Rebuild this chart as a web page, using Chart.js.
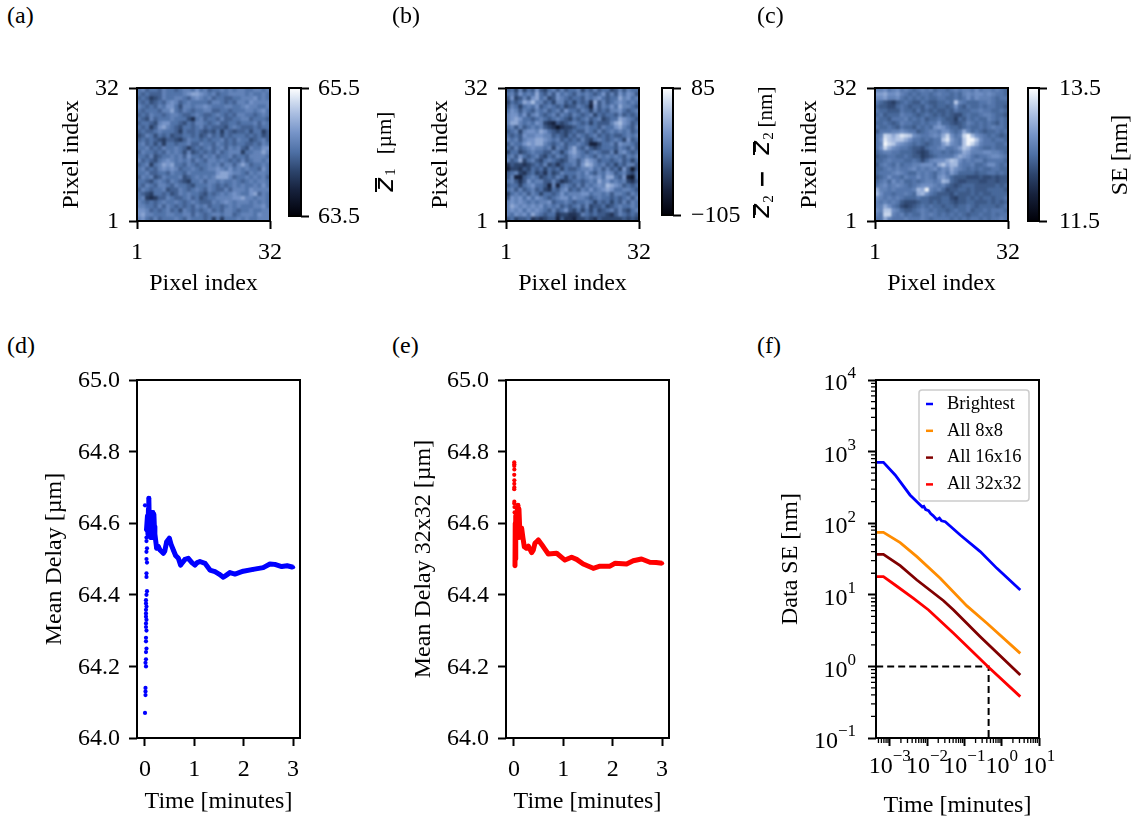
<!DOCTYPE html>
<html>
<head>
<meta charset="utf-8">
<title>Delay maps and convergence</title>
<script src="https://cdn.jsdelivr.net/npm/chart.js"></script>
<style>
  html, body { margin: 0; padding: 0; background: #fff; width: 1141px; height: 823px; overflow: hidden; }
  canvas { position: absolute; }
  .tag { position: absolute; font: 24px/28px "Liberation Serif", serif; color: #000; }
</style>
</head>
<body>
<script>
// Heat maps, top row first. One character = one pixel level.
const mapA = [
  '56455465 54566575 64556565 66556656', '54544465 55567887 65645566 66565565',
  '45423465 56654676 56455445 56667565', '54534546 76456555 54665454 66576666',
  '65454657 75366566 76555665 56766556', '54555466 85465455 66445545 55665675',
  '45465545 66544565 44565454 66554565', '54364555 65553156 45546445 56645554',
  '45543677 55435466 54564455 45556465', '54524786 54355456 45444356 54445455',
  '45445655 54254454 34352543 44535524', '34653545 34455453 46453545 55454534',
  '45454324 43246554 54556454 65534564', '56453525 54556446 55465454 55445465',
  '55645465 56542454 56456465 64365577', '46554546 56536345 45464566 62556686',
  '55463455 65647554 65645564 55466665', '64543567 65656465 46656545 46456656',
  '45625687 85546545 56564664 68645565', '56454676 76455654 56676575 65655475',
  '55644554 65546555 55578876 65465665', '46563465 55634565 65688864 55656564',
  '55435654 65432556 46656556 54565665', '54654665 46554355 56545456 56556575',
  '46545563 44654565 46544646 66576666', '54325545 34656554 35456567 65578465',
  '56212446 54456453 45566667 78665665', '65454565 56545654 44656765 66656565',
  '66554646 54545465 64554565 65556675', '77645456 45365454 56454665 45565566',
  '78665556 65566465 45665664 56665766', '67546455 56546555 45252555 65655666'
];
const mapB = [
  '45363547 43564645 56354645 53464655', '56475658 54647565 46565457 46475764',
  '47346478 56347654 55465675 45586756', '35458796 64536645 35452846 45676565',
  '46535657 45654534 46541746 57586654', '57646546 56456475 54653645 46675456',
  '67757467 54564654 65456354 55464545', '67875545 65456543 54564563 45587654',
  '68865657 63214345 65453544 46897645', '56464565 64320233 45565546 55786546',
  '45636776 87543434 54465464 56565645', '54547667 76645435 46545645 45445656',
  '65646778 87656454 54643565 45653745', '46557878 86545645 56541135 56476654',
  '54645676 65636546 85464345 55465464', '35534565 54465357 86545654 46367545',
  '56475456 43546546 76565465 65654656', '64583564 35654346 64687645 54564535',
  '24332345 46342455 64798656 45354664', '13324354 53545354 45667564 64537404',
  '45632453 42534655 56575465 76456435', '46114565 34546535 46567675 88547105',
  '56424756 64464234 55456586 75656324', '45535675 54161565 46465676 98764545',
  '56464564 53254674 54657567 87556654', '35656465 35545756 66775665 64665465',
  '47675757 65456775 76654565 54545646', '67676565 66745565 45565354 53546465',
  '68767676 75656454 56463445 34565565', '67675767 65464574 35353534 56464356',
  '65767586 54552332 23654544 32465454', '45344523 23441422 13343243 33334343'
];
const mapC = [
  '77867867 65676756 65676776 86776765', '99a88976 56566567 66565787 88787665',
  '88977865 65656556 65565686 87776566', '65432456 54465445 565c7655 56676555',
  '54433565 45546545 54585465 56566554', '65544465 54645454 45465556 67665565',
  '56455576 65456545 45433565 56776554', '65546667 56564556 54425465 65576565',
  '55654576 65565668 55434576 56565465', '65565465 54656589 86554565 56567665',
  '46667787 66456776 88656a75 65455656', '67dcaced c8766787 ad867dfb 87656545',
  '68ecbcca 86656566 ce976cff c8665665', '67fdc987 65654566 9b876cfd a7666556',
  '68da8766 54435667 86679cb8 76556555', '56776655 54323566 56567a97 77887765',
  '45566556 54423456 6668a986 56678876', '55676665 56535788 8acb8676 77566665',
  '46765756 6778886a c9bb7667 55688656', '55676766 78676786 87a87656 56556655',
  '56667876 55767657 86975555 45566565', '45686657 66867658 97544433 34334344',
  '56758675 56567767 ba543344 43344344', '67867876 56788876 75434555 44444545',
  'a7767666 67baf767 53445545 44455554', 'b8665667 65ab8654 44354445 45445555',
  '87676765 55655444 55324454 54554556', '76767643 33455454 55434455 44454545',
  '77a86532 34565655 45545565 45555456', '87cc8754 45676565 54565564 55656665',
  '76dd7675 65576765 65656545 56556566', '66a76667 66676566 66565656 65656676'
];
// value of level 0 and size of one level for each map
const levelsA = [63.88, 0.13];
const levelsB = [-80, 14];
const levelsC = [11.95, 0.1];
const rangeA = [63.5, 65.5];
const rangeB = [-105, 85];
const rangeC = [11.5, 13.5];
const barLabelsA = ['63.5', '65.5'];
const barLabelsB = ['\u2212105', '85'];
const barLabelsC = ['11.5', '13.5'];
const pixelTicks = [1, 32];

// Mean delay, all pixels of the brightest view (d)
const dotsDT = [0.00, 0.03, 0.03, 0.04, 0.03, 0.03, 0.04, 0.03, 0.03, 0.04, 0.03, 0.02, 0.02, 0.03, 0.02, 0.02, 0.02, 0.03, 0.02, 0.02, 0.03, 0.02, 0.02, 0.03, 0.02, 0.02, 0.01, 0.02, 0.01, 0.01, 0.01, 0.00];
const dotsDV = [64.65, 64.56, 64.55, 64.53, 64.52, 64.50, 64.49, 64.46, 64.45, 64.41, 64.40, 64.385, 64.376, 64.367, 64.358, 64.348, 64.339, 64.33, 64.32, 64.31, 64.30, 64.28, 64.27, 64.25, 64.24, 64.22, 64.21, 64.20, 64.14, 64.13, 64.12, 64.07];
const curveDT = [0.03, 0.05, 0.06, 0.07, 0.075, 0.08, 0.09, 0.10, 0.11, 0.12, 0.13, 0.14, 0.15, 0.16, 0.17, 0.18, 0.19, 0.20, 0.236, 0.27, 0.304, 0.371, 0.40, 0.439, 0.493, 0.53, 0.574, 0.62, 0.675, 0.722, 0.76, 0.81, 0.877, 0.95, 1.012, 1.06, 1.113, 1.215, 1.316, 1.417, 1.50, 1.586, 1.65, 1.72, 1.822, 1.99, 2.19, 2.395, 2.53, 2.63, 2.77, 2.88, 3.00];
const curveDV = [64.58, 64.62, 64.57, 64.64, 64.60, 64.67, 64.58, 64.63, 64.56, 64.62, 64.58, 64.63, 64.56, 64.63, 64.58, 64.625, 64.59, 64.57, 64.53, 64.535, 64.525, 64.516, 64.522, 64.548, 64.558, 64.54, 64.525, 64.51, 64.502, 64.483, 64.49, 64.499, 64.502, 64.49, 64.483, 64.49, 64.493, 64.488, 64.469, 64.465, 64.458, 64.449, 64.455, 64.462, 64.458, 64.466, 64.471, 64.476, 64.486, 64.485, 64.479, 64.481, 64.477];

// Mean delay 32x32 (e)
const dotsET = [0.005, 0.007, 0.005, 0.007, 0.005, 0.007, 0.006, 0.007, 0.005, 0.007, 0.006, 0.01, 0.012];
const dotsEV = [64.77, 64.765, 64.76, 64.75, 64.735, 64.72, 64.71, 64.70, 64.695, 64.66, 64.655, 64.645, 64.63];
const curveET = [0.02, 0.025, 0.03, 0.04, 0.05, 0.06, 0.07, 0.08, 0.09, 0.10, 0.12, 0.155, 0.18, 0.209, 0.25, 0.29, 0.358, 0.39, 0.425, 0.493, 0.594, 0.695, 0.864, 1.032, 1.167, 1.268, 1.403, 1.606, 1.741, 1.943, 2.044, 2.28, 2.415, 2.584, 2.753, 2.88, 3.00];
const curveEV = [64.48, 64.60, 64.50, 64.62, 64.56, 64.60, 64.64, 64.65, 64.56, 64.64, 64.57, 64.586, 64.56, 64.534, 64.53, 64.536, 64.518, 64.525, 64.544, 64.553, 64.534, 64.514, 64.516, 64.497, 64.505, 64.499, 64.486, 64.474, 64.48, 64.48, 64.488, 64.486, 64.495, 64.50, 64.491, 64.49, 64.488];
const delayTicks = [64.0, 64.2, 64.4, 64.6, 64.8, 65.0];
const timeTicks = [0, 1, 2, 3];

// Data SE against time (f)
const blueT = [0.000435, 0.00068, 0.0014, 0.0035, 0.0066, 0.0075, 0.0082, 0.0092, 0.011, 0.0125, 0.0145, 0.0184, 0.0215, 0.0245, 0.0308, 0.0776, 0.267, 0.746, 3.155];
const blueSE = [708, 708, 471, 248, 180, 168, 172, 155, 150, 136, 128, 112, 118, 108, 105, 68.4, 40.1, 23.4, 11.7];
const orangeT = [0.000435, 0.00068, 0.00191, 0.00535, 0.0226, 0.117, 0.403, 3.155];
const orangeSE = [74.6, 74.6, 53.5, 34.1, 17, 7.0, 4.0, 1.52];
const maroonT = [0.000435, 0.00068, 0.00191, 0.00535, 0.0277, 0.0514, 0.267, 3.155];
const maroonSE = [36.7, 36.7, 25.5, 16.1, 8.27, 6.13, 2.6, 0.76];
const redT = [0.000435, 0.00068, 0.0014, 0.00435, 0.011, 0.0514, 0.447, 3.155];
const redSE = [17.9, 17.9, 13.7, 8.9, 6.14, 2.9, 0.97, 0.378];
const guideT = [0.000435, 0.447, 0.447];
const guideSE = [1, 1, 0.1];
const legendLabels = ['Brightest', 'All 8x8', 'All 16x16', 'All 32x32'];
const decadesX = [-3, -2, -1, 0, 1];
const decadesY = [-1, 0, 1, 2, 3, 4];

const SERIF = '"Liberation Serif", serif';
Chart.defaults.color = '#000';
Chart.defaults.animation = false;
Chart.defaults.responsive = false;
Chart.defaults.plugins.legend.display = false;
Chart.defaults.plugins.tooltip.enabled = false;

// --- helpers ---
const colorStops = [
  [0, [0, 0, 8]], [0.2, [22, 33, 60]], [0.35, [44, 68, 108]], [0.5, [78, 112, 165]],
  [0.65, [118, 148, 200]], [0.8, [170, 190, 225]], [0.9, [210, 222, 240]], [1, [255, 255, 255]]
];
function rgb(c) { return 'rgb(' + c.map(Math.round).join(',') + ')'; }
function cmap(t) {
  t = Math.max(0, Math.min(1, t));
  for (let i = 1; i < colorStops.length; i++) {
    if (t <= colorStops[i][0]) {
      const a = colorStops[i - 1], b = colorStops[i];
      const f = (t - a[0]) / (b[0] - a[0]);
      return rgb(a[1].map((v, k) => v + (b[1][k] - v) * f));
    }
  }
  return 'rgb(255,255,255)';
}
function zip(xs, ys) { return xs.map((x, i) => ({ x: x, y: ys[i] })); }

function addCanvas(area, m) {
  const c = document.createElement('canvas');
  c.width = area.w + m.l + m.r;
  c.height = area.h + m.t + m.b;
  c.style.left = (area.x - m.l) + 'px';
  c.style.top = (area.y - m.t) + 'px';
  document.body.appendChild(c);
  return c.getContext('2d');
}
// keep the axis box a fixed size so the plot area lands where it should
function fixAxis(size) {
  return function (s) {
    s.paddingLeft = s.paddingRight = s.paddingTop = s.paddingBottom = 0;
    if (s.isHorizontal()) s.height = size; else s.width = size;
  };
}
function useTicks(values) {
  return function (s) { s.ticks = values.map(v => ({ value: v })); };
}
function axis(opts) {
  const vertical = opts.position === 'left' || opts.position === 'right';
  return {
    type: opts.type || 'linear',
    position: opts.position,
    min: opts.min,
    max: opts.max,
    afterBuildTicks: useTicks(opts.ticks),
    afterFit: fixAxis(opts.size),
    border: { display: false },
    grid: { drawOnChartArea: false, drawTicks: true, tickLength: 8, tickWidth: 2, tickColor: '#000' },
    ticks: {
      display: opts.showLabels !== false,
      autoSkip: false, maxRotation: 0, minRotation: 0,
      labelOffset: vertical ? 1 : 0,
      padding: opts.pad === undefined ? 9 : opts.pad,
      font: { family: SERIF, size: 24 },
      callback: opts.format
    },
    title: {
      display: !!opts.title, text: opts.title, font: { family: SERIF, size: 24 },
      padding: 0
    }
  };
}
const frame = {
  id: 'frame',
  afterDraw(chart) {
    const a = chart.chartArea, c = chart.ctx;
    c.save();
    c.strokeStyle = '#000';
    c.lineWidth = 2;
    c.strokeRect(a.left, a.top, a.right - a.left, a.bottom - a.top);
    c.restore();
  }
};
// the reference image is interpolated, soften the pixels a little
const soften = {
  id: 'soften',
  afterDatasetsDraw(chart) {
    const a = chart.chartArea, c = chart.ctx, w = a.right - a.left, h = a.bottom - a.top;
    const tmp = document.createElement('canvas');
    tmp.width = w; tmp.height = h;
    tmp.getContext('2d').drawImage(c.canvas, a.left, a.top, w, h, 0, 0, w, h);
    c.save();
    c.beginPath(); c.rect(a.left, a.top, w, h); c.clip();
    c.filter = 'blur(0.9px)';
    c.drawImage(tmp, a.left, a.top);
    c.restore();
  }
};
function rotated(c, text, font, x, y) {
  c.save();
  c.translate(x, y);
  c.rotate(-Math.PI / 2);
  c.font = font;
  c.textAlign = 'center';
  c.textBaseline = 'middle';
  c.fillStyle = '#000';
  c.fillText(text, 0, 0);
  c.restore();
}
// side labels of the colour bars, given in page position
const sideLabel = {
  id: 'sideLabel',
  afterDraw(chart, args, o) {
    const c = chart.ctx;
    (o.pieces || []).forEach(p => {
      if (p.bar) {
        c.fillStyle = '#000';
        c.fillRect(p.bar[0] - o.ox, p.bar[1] - o.oy, 2, p.bar[2] - p.bar[1]);
      } else {
        rotated(c, p.text, p.font, p.x - o.ox, p.y - o.oy);
      }
    });
  }
};

function heatPanel(area, rows, levels, range) {
  const m = { l: 80, r: 20, t: 20, b: 77 };
  const cells = [];
  rows.forEach((row, r) => {
    row.replace(/ /g, '').split('').forEach((ch, k) => {
      cells.push({
        x: 1 + (k + 0.5) * 31 / 32,
        y: 32 - (r + 0.5) * 31 / 32,
        v: levels[0] + parseInt(ch, 16) * levels[1]
      });
    });
  });
  new Chart(addCanvas(area, m), {
    type: 'scatter',
    data: {
      datasets: [{
        data: cells,
        pointStyle: 'rect',
        pointRadius: 3.15,
        pointBorderWidth: 0,
        pointBackgroundColor: cells.map(d => cmap((d.v - range[0]) / (range[1] - range[0])))
      }]
    },
    options: {
      layout: { padding: { top: m.t, right: m.r } },
      scales: {
        x: axis({ position: 'bottom', min: 1, max: 32, ticks: pixelTicks, size: m.b, title: 'Pixel index', format: v => String(v) }),
        y: axis({ position: 'left', min: 1, max: 32, ticks: pixelTicks, size: m.l, title: 'Pixel index', pad: 10, format: v => String(v) })
      }
    },
    plugins: [soften, frame]
  });
}

function colorBar(area, range, labels, pad, pieces) {
  const m = { l: 4, r: 120, t: 20, b: 20 };
  new Chart(addCanvas(area, m), {
    type: 'bar',
    data: {
      labels: ['scale'],
      datasets: [{
        data: [range],
        barPercentage: 1,
        categoryPercentage: 1,
        backgroundColor(ctx) {
          const a = ctx.chart.chartArea;
          if (!a) return '#4e70a5';
          const g = ctx.chart.ctx.createLinearGradient(0, a.bottom, 0, a.top);
          colorStops.forEach(s => g.addColorStop(s[0], rgb(s[1])));
          return g;
        }
      }]
    },
    options: {
      layout: { padding: { top: m.t, bottom: m.b, left: m.l } },
      scales: {
        x: { display: false },
        y: axis({ position: 'right', min: range[0], max: range[1], ticks: range, size: m.r, pad: pad, format: (v, i) => labels[i] })
      },
      plugins: { sideLabel: { pieces: pieces, ox: area.x - m.l, oy: area.y - m.t } }
    },
    plugins: [frame, sideLabel]
  });
}

function delayPanel(area, color, dotsT, dotsV, curveT, curveV, yTitle) {
  const m = { l: 97, r: 6, t: 20, b: 78 };
  new Chart(addCanvas(area, m), {
    type: 'scatter',
    data: {
      datasets: [
        { data: zip(dotsT, dotsV), pointRadius: 2.1, pointBorderWidth: 0, pointBackgroundColor: color },
        { data: zip(curveT, curveV), showLine: true, borderColor: color, borderWidth: 5, tension: 0, borderJoinStyle: 'round', pointRadius: 2.1, pointBorderWidth: 0, pointBackgroundColor: color }
      ]
    },
    options: {
      layout: { padding: { top: m.t, right: m.r } },
      scales: {
        x: axis({ position: 'bottom', min: -0.162, max: 3.14, ticks: timeTicks, size: m.b, title: 'Time [minutes]', format: v => String(v) }),
        y: axis({ position: 'left', min: 64, max: 65, ticks: delayTicks, size: m.l, title: yTitle, pad: 9, format: v => v.toFixed(1) })
      }
    },
    plugins: [frame]
  });
}

// log axes: minor ticks and 10^n labels
const logDecor = {
  id: 'logDecor',
  afterDraw(chart) {
    const c = chart.ctx, sx = chart.scales.x, sy = chart.scales.y, a = chart.chartArea;
    c.save();
    c.strokeStyle = '#000';
    c.lineWidth = 1.3;
    c.beginPath();
    for (let k = -4; k < 1; k++) {
      for (let d = 2; d < 10; d++) {
        const v = d * Math.pow(10, k);
        if (v <= sx.min || v >= sx.max) continue;
        const px = sx.getPixelForValue(v);
        c.moveTo(px, a.bottom);
        c.lineTo(px, a.bottom + 5);
      }
    }
    for (let k = -1; k < 4; k++) {
      for (let d = 2; d < 10; d++) {
        const py = sy.getPixelForValue(d * Math.pow(10, k));
        c.moveTo(a.left, py);
        c.lineTo(a.left - 5, py);
      }
    }
    c.stroke();
    c.fillStyle = '#000';
    c.textBaseline = 'middle';
    const base = '24px ' + SERIF, sup = '17px ' + SERIF;
    decadesX.forEach(e => {
      const px = sx.getPixelForValue(Math.pow(10, e));
      const exp = String(e).replace('-', '\u2212');
      c.font = base; const w1 = c.measureText('10').width;
      c.font = sup; const w2 = c.measureText(exp).width;
      const left = px - (w1 + w2) / 2;
      c.textAlign = 'left';
      c.font = base; c.fillText('10', left, a.bottom + 29);
      c.font = sup; c.fillText(exp, left + w1, a.bottom + 19);
    });
    decadesY.forEach(e => {
      const py = sy.getPixelForValue(Math.pow(10, e));
      const exp = String(e).replace('-', '\u2212');
      c.font = sup; const w2 = c.measureText(exp).width;
      const right = a.left - 20;
      c.textAlign = 'right';
      c.fillText(exp, right, py - 6);
      c.font = base; c.fillText('10', right - w2, py + 4);
    });
    c.restore();
  }
};
const seLegend = {
  id: 'seLegend',
  afterDatasetsDraw(chart) {
    const c = chart.ctx, a = chart.chartArea;
    const x = a.left + 43, y = a.top + 10, w = 110, h = 111;
    c.save();
    c.fillStyle = 'rgba(255,255,255,0.85)';
    c.strokeStyle = '#ccc';
    c.lineWidth = 1.5;
    c.beginPath();
    c.roundRect(x, y, w, h, 3);
    c.fill();
    c.stroke();
    c.font = '18.5px ' + SERIF;
    c.textAlign = 'left';
    c.textBaseline = 'middle';
    legendLabels.forEach((t, i) => {
      const ly = y + 14 + i * 26.8;
      c.strokeStyle = chart.data.datasets[i].borderColor;
      c.lineWidth = 2.5;
      c.beginPath();
      c.moveTo(x + 7, ly);
      c.lineTo(x + 14, ly);
      c.stroke();
      c.fillStyle = '#000';
      c.fillText(t, x + 28, ly);
    });
    c.restore();
  }
};

function sePanel(area) {
  const m = { l: 100, r: 22, t: 20, b: 82 };
  const line = (t, se, color) => ({ data: zip(t, se), showLine: true, borderColor: color, borderWidth: 2.8, tension: 0, pointRadius: 0 });
  const guide = line(guideT, guideSE, '#000');
  guide.borderDash = [7, 4];
  guide.borderWidth = 2;
  new Chart(addCanvas(area, m), {
    type: 'scatter',
    data: {
      datasets: [
        line(blueT, blueSE, '#0000ff'),
        line(orangeT, orangeSE, '#ff8c00'),
        line(maroonT, maroonSE, '#800000'),
        line(redT, redSE, '#ff0000'),
        guide
      ]
    },
    options: {
      layout: { padding: { top: m.t, right: m.r } },
      scales: {
        x: axis({ type: 'logarithmic', position: 'bottom', min: 0.00043, max: 10, ticks: decadesX.map(e => Math.pow(10, e)), size: m.b, title: 'Time [minutes]', showLabels: false }),
        y: axis({ type: 'logarithmic', position: 'left', min: 0.1, max: 10000, ticks: decadesY.map(e => Math.pow(10, e)), size: m.l, title: 'Data SE [nm]', showLabels: false })
      }
    },
    plugins: [frame, seLegend, logDecor]
  });
}

// --- panels ---
heatPanel({ x: 137, y: 88, w: 133, h: 133 }, mapA, levelsA, rangeA);
heatPanel({ x: 506, y: 88, w: 133, h: 133 }, mapB, levelsB, rangeB);
heatPanel({ x: 875, y: 88, w: 133, h: 133 }, mapC, levelsC, rangeC);

const zFont = 'italic 26px "DejaVu Sans", sans-serif';
colorBar({ x: 289, y: 88, w: 12, h: 128 }, rangeA, barLabelsA, 9, [
  { text: '[\u00b5m]', font: '21px ' + SERIF, x: 385, y: 133 },
  { text: '1', font: '15px ' + SERIF, x: 391, y: 172 },
  { text: 'z', font: zFont, x: 386, y: 185 },
  { bar: [375, 178, 192] }
]);
colorBar({ x: 662, y: 88, w: 11, h: 127 }, rangeB, barLabelsB, 10, [
  { text: '[nm]', font: '21px ' + SERIF, x: 766, y: 107 },
  { text: '2', font: '15px ' + SERIF, x: 769, y: 136 },
  { text: 'z', font: zFont, x: 762, y: 148 },
  { bar: [753, 142, 155] },
  { text: '\u2212', font: 'bold 22px "DejaVu Sans", sans-serif', x: 763, y: 179 },
  { text: '2', font: '15px ' + SERIF, x: 769, y: 199 },
  { text: 'z', font: zFont, x: 762, y: 211 },
  { bar: [753, 205, 218] }
]);
colorBar({ x: 1028, y: 88, w: 11, h: 133 }, rangeC, barLabelsC, 12, [
  { text: 'SE [nm]', font: '24px ' + SERIF, x: 1121, y: 155 }
]);

delayPanel({ x: 137, y: 380, w: 163, h: 358 }, '#0000ff', dotsDT, dotsDV, curveDT, curveDV, 'Mean Delay [\u00b5m]');
delayPanel({ x: 506, y: 380, w: 163, h: 358 }, '#ff0000', dotsET, dotsEV, curveET, curveEV, 'Mean Delay 32x32 [\u00b5m]');
sePanel({ x: 876, y: 380, w: 163, h: 358 });

// panel letters
[['(a)', 7, 1], ['(b)', 392, 1], ['(c)', 757, 1], ['(d)', 7, 331], ['(e)', 392, 331], ['(f)', 757, 331]].forEach(t => {
  const el = document.createElement('div');
  el.className = 'tag';
  el.textContent = t[0];
  el.style.left = t[1] + 'px';
  el.style.top = t[2] + 'px';
  document.body.appendChild(el);
});
</script>
</body>
</html>
